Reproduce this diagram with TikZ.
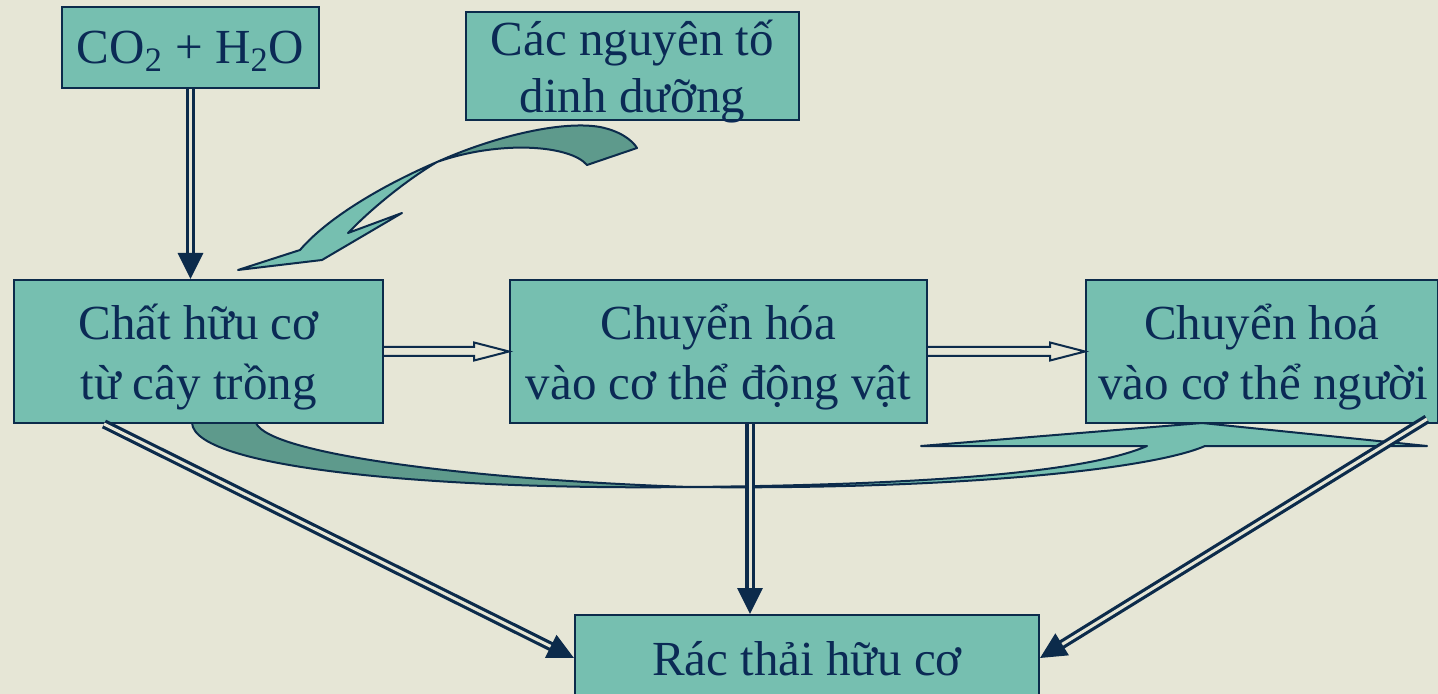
\documentclass[tikz,border=0pt]{standalone}
\usepackage{xcolor}
\usepackage{fontspec}
\setmainfont{Liberation Serif}
\usepackage{tikz}
\usetikzlibrary{arrows.meta, calc}

\definecolor{bgcol}{HTML}{E6E6D6}
\definecolor{boxcol}{HTML}{76BFB0}
\definecolor{ribcol}{HTML}{5E9A8C}
\definecolor{linecol}{HTML}{0C2B4B}
\definecolor{txtcol}{HTML}{0B2A55}

\begin{document}
\begin{tikzpicture}[x=0.5pt, y=-0.5pt,
    box/.style={draw=linecol, fill=boxcol, line width=1pt, text=txtcol, align=center, inner sep=0pt, text depth=0pt, font=\fontsize{24.5}{30}\selectfont},
    ribbon/.style={draw=linecol, fill=boxcol, line width=1pt, line join=round},
    dblarrow/.style={draw=linecol, double=bgcol, line width=1.6pt, double distance=1.5pt, -{Triangle[length=13pt, width=12.5pt]}},
    hollowarrow/.style={draw=linecol, fill=bgcol, line width=1pt}]
    \useasboundingbox (0, 0) rectangle (1438, 694);
    \clip (0, 0) rectangle (1438, 694);
    \fill[bgcol] (0, 0) rectangle (1438, 694);

    % curved ribbon arrows
    \filldraw[ribbon, fill=ribcol] (437, 162) .. controls (490, 138) and (560, 120) .. (600, 127) .. controls (620, 131) and (632, 140) .. (637, 148) -- (587, 165) .. controls (570, 145) and (500, 140) .. (437, 162) -- cycle;
    \filldraw[ribbon] (437, 162) .. controls (390, 182) and (330, 215) .. (300, 250) -- (238, 270) -- (322, 260) -- (402, 213) -- (348, 233) .. controls (375, 205) and (410, 178) .. (437, 162) -- cycle;
    \filldraw[ribbon, fill=ribcol] (192, 423) .. controls (195, 470) and (450, 490) .. (690, 487) .. controls (480, 480) and (270, 455) .. (256, 423) -- cycle;
    \filldraw[ribbon] (690, 487) .. controls (900, 485) and (1080, 475) .. (1147, 446) -- (921, 446) -- (1202, 423) -- (1427, 446) -- (1205, 446) .. controls (1150, 470) and (950, 490) .. (690, 487) -- cycle;

    \node[box, minimum width=128.5pt, minimum height=40.5pt] at (190.5, 47.5) (co2) {CO\textsubscript{2} + H\textsubscript{2}O};
    \node[box, minimum width=166.5pt, minimum height=54pt] at (632.5, 66) (nutrient) {Các nguyên tố\\[-1.5pt]dinh dưỡng};
    \node[box, minimum width=184.5pt, minimum height=71.5pt] at (198.5, 351.5) (plant) {Chất hữu cơ\\từ cây trồng};
    \node[box, minimum width=208.5pt, minimum height=71.5pt] at (718.5, 351.5) (animal) {Chuyển hóa\\vào cơ thể động vật};
    \node[box, minimum width=176pt, minimum height=71.5pt] at (1262, 351.5) (human) {Chuyển hoá\\\makebox[172pt][l]{\hspace{4pt}vào cơ thể người}};
    \node[box, minimum width=232pt, minimum height=43pt] at (807, 658) (waste) {Rác thải hữu cơ};

    \draw[dblarrow] (co2.south) -- (co2.south |- plant.north);
    \draw[hollowarrow] ($(plant.east)+(0, -4.5)$) -- ($(animal.west)+(-35, -4.5)$) -- ($(animal.west)+(-35, -9)$) -- (animal.west) -- ($(animal.west)+(-35, 9)$) -- ($(animal.west)+(-35, 4.5)$) -- ($(plant.east)+(0, 4.5)$);
    \draw[hollowarrow] ($(animal.east)+(0, -4.5)$) -- ($(human.west)+(-35, -4.5)$) -- ($(human.west)+(-35, -9)$) -- (human.west) -- ($(human.west)+(-35, 9)$) -- ($(human.west)+(-35, 4.5)$) -- ($(animal.east)+(0, 4.5)$);
    \coordinate (vtop) at ($(animal.south)+(31.5, 0)$);
    \draw[dblarrow] (vtop) -- (vtop |- waste.north);
    \draw[dblarrow] ($(plant.south west)+(91, 0)$) -- (waste.west);
    \draw[dblarrow] ($(human.south east)+(-12, -5)$) -- (waste.east);
\end{tikzpicture}
\end{document}
